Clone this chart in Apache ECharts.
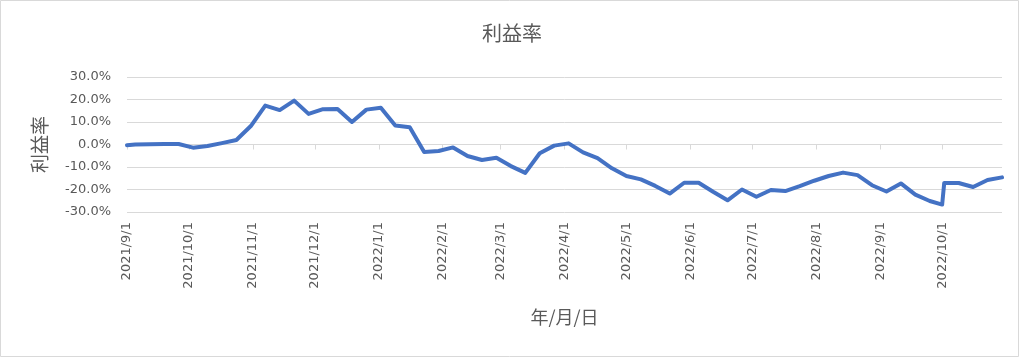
<!DOCTYPE html>
<html><head><meta charset="utf-8">
<script src="https://cdn.jsdelivr.net/npm/echarts@6/dist/echarts.min.js"></script>
<style>html,body{margin:0;padding:0;background:#fff}#c{width:1024px;height:360px}</style>
</head><body><div id="c"></div>
<script>
const dates = ['2021/9/1','2021/9/5','2021/9/12','2021/9/19','2021/9/26','2021/10/3','2021/10/10','2021/10/17','2021/10/24','2021/10/31','2021/11/7','2021/11/14','2021/11/21','2021/11/28','2021/12/5','2021/12/12','2021/12/19','2021/12/26','2022/1/2','2022/1/9','2022/1/16','2022/1/23','2022/1/30','2022/2/6','2022/2/13','2022/2/20','2022/2/27','2022/3/6','2022/3/13','2022/3/20','2022/3/27','2022/4/3','2022/4/10','2022/4/17','2022/4/24','2022/5/1','2022/5/8','2022/5/15','2022/5/22','2022/5/29','2022/6/5','2022/6/12','2022/6/19','2022/6/26','2022/7/3','2022/7/10','2022/7/17','2022/7/24','2022/7/31','2022/8/7','2022/8/14','2022/8/21','2022/8/28','2022/9/4','2022/9/11','2022/9/18','2022/9/25','2022/10/1','2022/10/2','2022/10/9','2022/10/16','2022/10/23','2022/10/30'];
const profitRate = [-0.3,0.0,0.1,0.2,0.2,-1.4,-0.7,0.6,2.0,8.2,17.3,15.3,19.5,13.6,15.7,15.8,10.0,15.5,16.3,8.4,7.7,-3.3,-2.9,-1.3,-5.1,-6.9,-5.9,-9.6,-12.6,-3.9,-0.5,0.5,-3.5,-6.1,-10.6,-14.0,-15.5,-18.4,-21.8,-17.0,-17.0,-21.0,-24.8,-20.0,-23.2,-20.2,-20.7,-18.5,-16.1,-14.0,-12.5,-13.6,-18.1,-20.9,-17.3,-22.3,-25.1,-26.7,-17.1,-17.1,-18.9,-15.8,-14.6];
const monthTicks = ['2021/9/1','2021/10/1','2021/11/1','2021/12/1','2022/1/1','2022/2/1','2022/3/1','2022/4/1','2022/5/1','2022/6/1','2022/7/1','2022/8/1','2022/9/1','2022/10/1'];
const axisStart = '2021/9/1';
const axisEnd = '2022/10/30';

function toTime(s){const p=s.split('/').map(Number);return new Date(p[0],p[1]-1,p[2]).getTime();}
function fmt(v){const d=new Date(v);return d.getFullYear()+'/'+(d.getMonth()+1)+'/'+d.getDate();}
const tickTimes = monthTicks.map(toTime);
const jp = '"Noto Sans CJK JP", sans-serif';
const num = '"DejaVu Sans", sans-serif';
const grey = '#595959';
const gridC = '#d9d9d9';

const chart = echarts.init(document.getElementById('c'), null, {renderer:'canvas'});
chart.setOption({
  animation:false,
  backgroundColor:'#fff',
  title:{text:'利益率', left:'center', top:18, textStyle:{fontFamily:jp, fontSize:20, fontWeight:'normal', color:grey}},
  graphic:[{type:'rect', shape:{x:0.5,y:0.5,width:1018,height:356}, style:{fill:'none', stroke:gridC, lineWidth:1}, silent:true}],
  grid:{left:127, right:22, top:77, bottom:148, containLabel:false},
  xAxis:[{
    type:'value', min:toTime(axisStart), max:toTime(axisEnd), position:'bottom', scale:true,
    axisLine:{show:true, onZero:true, lineStyle:{color:gridC, width:1}},
    axisTick:{show:true, length:5, customValues:tickTimes, lineStyle:{color:gridC}},
    axisLabel:{show:false, customValues:tickTimes}, splitLine:{show:false}
  },{
    type:'value', min:toTime(axisStart), max:toTime(axisEnd), position:'bottom', scale:true,
    axisLine:{show:false, onZero:false}, axisTick:{show:false}, splitLine:{show:false},
    axisLabel:{show:true, rotate:90, customValues:tickTimes, formatter:fmt, fontFamily:num, fontSize:13, color:grey, margin:10, hideOverlap:false},
    name:'年/月/日', nameLocation:'middle', nameGap:96, nameTextStyle:{fontFamily:jp, fontSize:18, color:grey}
  }],
  yAxis:{
    type:'value', min:-30, max:30, interval:10,
    axisLine:{show:false}, axisTick:{show:false},
    splitLine:{show:true, lineStyle:{color:gridC, width:1}},
    axisLabel:{formatter:v=>v.toFixed(1)+'%', fontFamily:num, fontSize:13, color:grey, margin:16},
    name:'利益率', nameLocation:'middle', nameRotate:90, nameGap:78, nameTextStyle:{fontFamily:jp, fontSize:19, color:grey}
  },
  series:[{
    type:'line', xAxisIndex:0, showSymbol:false, symbol:'none',
    data:dates.map((d,i)=>[toTime(d), profitRate[i]]),
    lineStyle:{color:'#4472C4', width:4, cap:'round', join:'round'},
    itemStyle:{color:'#4472C4'}
  }]
});
</script></body></html>
